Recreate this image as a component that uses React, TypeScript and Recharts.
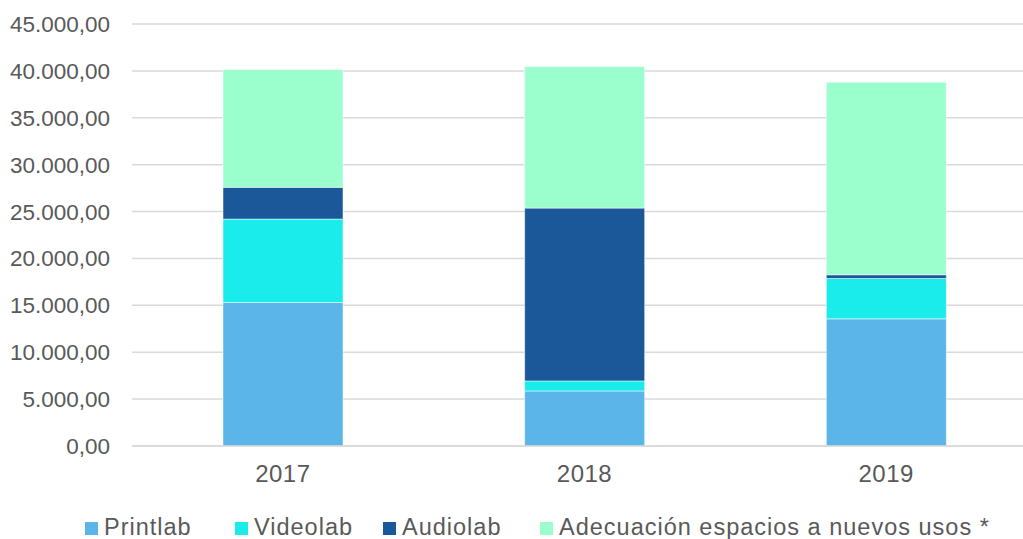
import { BarChart, Bar, XAxis, YAxis, CartesianGrid, Legend } from 'recharts';

const years = ['2017', '2018', '2019'];
const printlab = [15300, 5870, 13560];
const videolab = [8900, 1070, 4300];
const audiolab = [3380, 18430, 400];
const adecuacion = [12560, 15090, 20530];
const yTicks = [0, 5000, 10000, 15000, 20000, 25000, 30000, 35000, 40000, 45000];

const series = [
  { key: 'printlab', name: 'Printlab', color: '#5bb5e8', w: 150 },
  { key: 'videolab', name: 'Videolab', color: '#1aebeb', w: 148 },
  { key: 'audiolab', name: 'Audiolab', color: '#1a5899', w: 157 },
  { key: 'adecuacion', name: 'Adecuación espacios a nuevos usos *', color: '#9bffcd', w: 470 },
];

const data = years.map((year, i) => ({
  year,
  printlab: printlab[i],
  videolab: videolab[i],
  audiolab: audiolab[i],
  adecuacion: adecuacion[i],
}));

const fmt = (v: number) => {
  const [int, dec] = v.toFixed(2).split('.');
  return int.replace(/\B(?=(\d{3})+(?!\d))/g, '.') + ',' + dec;
};

const font = '"Liberation Sans", Arial, sans-serif';
const textColor = '#595959';

const renderLegend = () => (
  <div
    style={{
      display: 'flex',
      paddingLeft: 73,
      marginTop: 21,
      height: 22,
      lineHeight: '22px',
      fontFamily: font,
      fontSize: 23.5,
      letterSpacing: 1,
      color: textColor,
      whiteSpace: 'nowrap',
    }}
  >
    {series.map((s) => (
      <div key={s.key} style={{ display: 'flex', alignItems: 'center', width: s.w, flexShrink: 0 }}>
        <span style={{ width: 13, height: 13, background: s.color, marginRight: 6, marginTop: 3, flexShrink: 0 }} />
        <span>{s.name}</span>
      </div>
    ))}
  </div>
);

export default function App() {
  return (
    <div style={{ position: 'absolute', left: 0, top: 0, width: 1023, height: 539, overflow: 'hidden', background: '#fff' }}>
      <BarChart
        width={1044}
        height={539}
        data={data}
        barSize={120}
        margin={{ top: 24, right: 7, left: 12, bottom: 0 }}
      >
        <CartesianGrid vertical={false} stroke="#d9d9d9" strokeWidth={1.5} />
        <XAxis
          dataKey="year"
          height={49}
          tickLine={false}
          axisLine={{ stroke: '#d9d9d9', strokeWidth: 1.5 }}
          tickMargin={13}
          tick={{ fill: textColor, fontSize: 24, fontFamily: font, letterSpacing: 0.5 }}
        />
        <YAxis
          width={120}
          domain={[0, 45000]}
          ticks={yTicks}
          interval={0}
          tickFormatter={fmt}
          axisLine={false}
          tickLine={false}
          tickMargin={16}
          tick={{ fill: textColor, fontSize: 22.5, fontFamily: font }}
        />
        <Legend verticalAlign="bottom" height={44} content={renderLegend} />
        {series.map((s) => (
          <Bar
            key={s.key}
            dataKey={s.key}
            name={s.name}
            stackId="a"
            fill={s.color}
            stroke="#ffffff"
            strokeWidth={0.5}
            isAnimationActive={false}
          />
        ))}
      </BarChart>
    </div>
  );
}
